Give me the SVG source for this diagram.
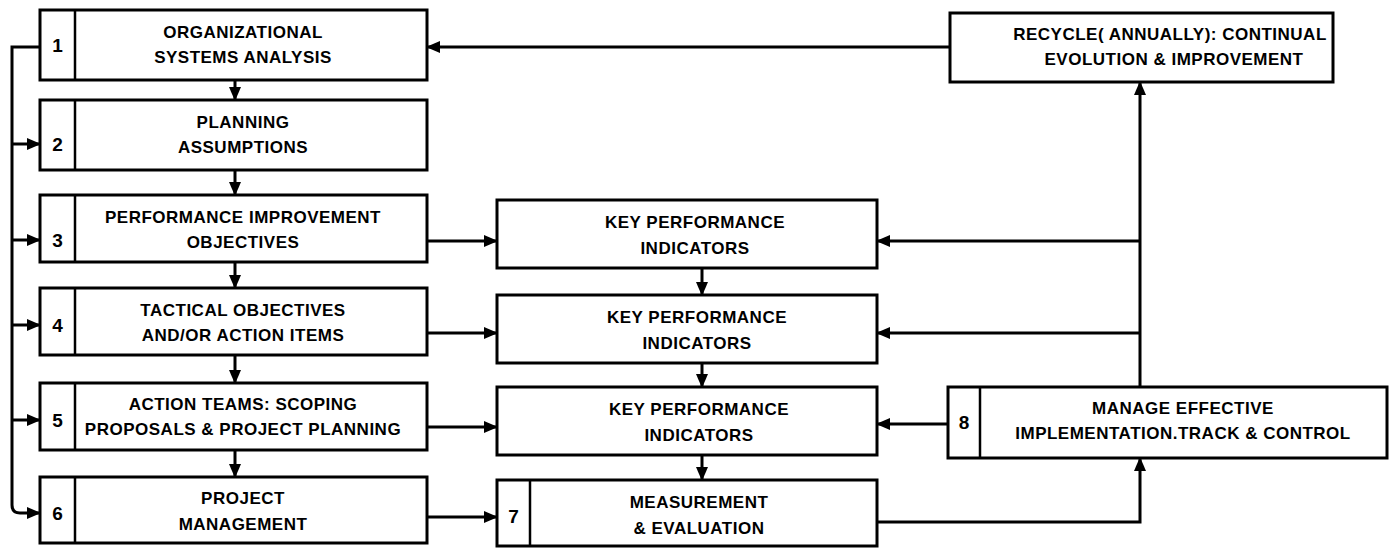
<svg xmlns="http://www.w3.org/2000/svg" width="1391" height="549" viewBox="0 0 1391 549">
  <style>
    .box { fill: #fff; stroke: #000; stroke-width: 3; }
    .div { stroke: #000; stroke-width: 2.5; }
    .lbl { font-family: "Liberation Sans", Arial, sans-serif; font-weight: bold; font-size: 17px; letter-spacing: 0.5px; text-anchor: middle; fill: #000; }
    .num { font-family: "Liberation Sans", Arial, sans-serif; font-weight: bold; font-size: 19px; text-anchor: middle; fill: #000; }
    .wire { fill: none; stroke: #000; stroke-width: 3; }
    .arr { marker-end: url(#head); }
  </style>
  <defs>
    <marker id="head" markerUnits="userSpaceOnUse" markerWidth="14" markerHeight="12" refX="13" refY="6" orient="auto">
      <path d="M0,0 L14,6 L0,12 Z" fill="#000"/>
    </marker>
  </defs>
  <rect width="1391" height="549" fill="#fff"/>

  <!-- connectors -->
  <g id="connectors">
    <!-- left feedback bus from step 1 to steps 2-6 -->
    <path class="wire" d="M40,47 H12 V505 Q12,513 20,513 H40" marker-end="url(#head)"/>
    <path class="wire arr" d="M12,144 H40"/>
    <path class="wire arr" d="M12,240 H40"/>
    <path class="wire arr" d="M12,325 H40"/>
    <path class="wire arr" d="M12,420 H40"/>
    <!-- main column flow -->
    <path class="wire arr" d="M235,80 V100"/>
    <path class="wire arr" d="M235,170 V195"/>
    <path class="wire arr" d="M235,262 V288"/>
    <path class="wire arr" d="M235,355 V383"/>
    <path class="wire arr" d="M235,450 V477"/>
    <!-- main column to indicators -->
    <path class="wire arr" d="M427,241 H497"/>
    <path class="wire arr" d="M427,333 H497"/>
    <path class="wire arr" d="M427,427 H497"/>
    <path class="wire arr" d="M427,517 H497"/>
    <!-- indicator column flow -->
    <path class="wire arr" d="M702,268 V295"/>
    <path class="wire arr" d="M702,363 V387"/>
    <path class="wire arr" d="M702,455 V480"/>
    <!-- measurement to step 8 -->
    <path class="wire arr" d="M877,522 H1140 V458"/>
    <!-- step 8 to indicators and recycle -->
    <path class="wire arr" d="M948,424 H877"/>
    <path class="wire arr" d="M1140,387 V82"/>
    <path class="wire arr" d="M1140,241 H877"/>
    <path class="wire arr" d="M1140,333 H877"/>
    <!-- recycle back to step 1 -->
    <path class="wire arr" d="M950,47 H427"/>
  </g>

  <g id="n1">
    <rect class="box" x="40" y="10" width="387" height="70"/>
    <line class="div" x1="75" y1="10" x2="75" y2="80"/>
    <text class="num" x="57.5" y="52">1</text>
    <text class="lbl" x="243" y="38">ORGANIZATIONAL</text>
    <text class="lbl" x="243" y="63">SYSTEMS ANALYSIS</text>
  </g>
  <g id="n2">
    <rect class="box" x="40" y="100" width="387" height="70"/>
    <line class="div" x1="75" y1="100" x2="75" y2="170"/>
    <text class="num" x="57.5" y="151">2</text>
    <text class="lbl" x="243" y="128">PLANNING</text>
    <text class="lbl" x="243" y="153">ASSUMPTIONS</text>
  </g>
  <g id="n3">
    <rect class="box" x="40" y="195" width="387" height="67"/>
    <line class="div" x1="75" y1="195" x2="75" y2="262"/>
    <text class="num" x="57.5" y="247">3</text>
    <text class="lbl" x="243" y="223">PERFORMANCE IMPROVEMENT</text>
    <text class="lbl" x="243" y="248">OBJECTIVES</text>
  </g>
  <g id="n4">
    <rect class="box" x="40" y="288" width="387" height="67"/>
    <line class="div" x1="75" y1="288" x2="75" y2="355"/>
    <text class="num" x="57.5" y="332">4</text>
    <text class="lbl" x="243" y="316">TACTICAL OBJECTIVES</text>
    <text class="lbl" x="243" y="341">AND/OR ACTION ITEMS</text>
  </g>
  <g id="n5">
    <rect class="box" x="40" y="383" width="387" height="67"/>
    <line class="div" x1="75" y1="383" x2="75" y2="450"/>
    <text class="num" x="57.5" y="427">5</text>
    <text class="lbl" x="243" y="410">ACTION TEAMS: SCOPING</text>
    <text class="lbl" x="243" y="435">PROPOSALS &amp; PROJECT PLANNING</text>
  </g>
  <g id="n6">
    <rect class="box" x="40" y="477" width="387" height="66"/>
    <line class="div" x1="75" y1="477" x2="75" y2="543"/>
    <text class="num" x="57.5" y="520">6</text>
    <text class="lbl" x="243" y="504">PROJECT</text>
    <text class="lbl" x="243" y="530">MANAGEMENT</text>
  </g>

  <g id="kpi1">
    <rect class="box" x="497" y="200" width="380" height="68"/>
    <text class="lbl" x="695" y="228">KEY PERFORMANCE</text>
    <text class="lbl" x="695" y="254">INDICATORS</text>
  </g>
  <g id="kpi2">
    <rect class="box" x="497" y="295" width="380" height="68"/>
    <text class="lbl" x="697" y="323">KEY PERFORMANCE</text>
    <text class="lbl" x="697" y="349">INDICATORS</text>
  </g>
  <g id="kpi3">
    <rect class="box" x="497" y="387" width="380" height="68"/>
    <text class="lbl" x="699" y="415">KEY PERFORMANCE</text>
    <text class="lbl" x="699" y="441">INDICATORS</text>
  </g>
  <g id="n7">
    <rect class="box" x="497" y="480" width="380" height="66"/>
    <line class="div" x1="530" y1="480" x2="530" y2="546"/>
    <text class="num" x="513.5" y="523">7</text>
    <text class="lbl" x="699" y="508">MEASUREMENT</text>
    <text class="lbl" x="699" y="534">&amp; EVALUATION</text>
  </g>
  <g id="n8">
    <rect class="box" x="948" y="387" width="439" height="71"/>
    <line class="div" x1="980" y1="387" x2="980" y2="458"/>
    <text class="num" x="964" y="429">8</text>
    <text class="lbl" x="1183" y="414">MANAGE EFFECTIVE</text>
    <text class="lbl" x="1183" y="439">IMPLEMENTATION.TRACK &amp; CONTROL</text>
  </g>
  <g id="recycle">
    <rect class="box" x="950" y="13" width="383" height="69"/>
    <text class="lbl" x="1170" y="40">RECYCLE( ANNUALLY): CONTINUAL</text>
    <text class="lbl" x="1174" y="65">EVOLUTION &amp; IMPROVEMENT</text>
  </g>
</svg>
